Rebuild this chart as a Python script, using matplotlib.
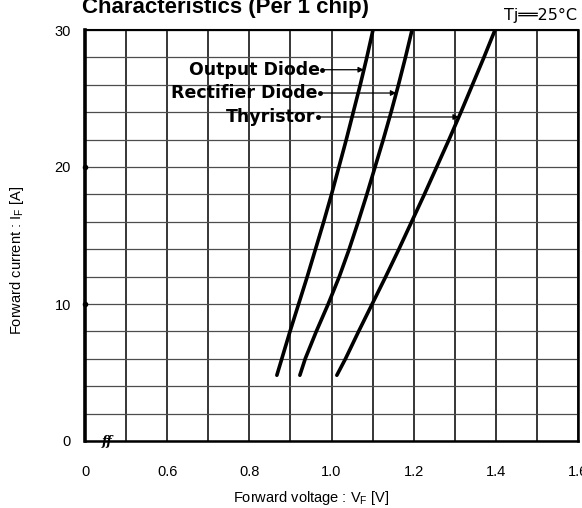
import numpy as np
from matplotlib import pyplot as plt

plt.rcParams['font.family'] = ['Liberation Sans', 'DejaVu Sans']

# forward current [A]
current = [4.8, 6, 8, 10, 12, 14, 16, 18, 20, 22, 24, 26, 28, 30]
# forward voltage [V]
vf_output_diode = [0.867, 0.879, 0.899, 0.920, 0.941, 0.961, 0.981, 1.000,
                   1.018, 1.036, 1.053, 1.070, 1.086, 1.101]
vf_rectifier_diode = [0.923, 0.936, 0.963, 0.992, 1.019, 1.043, 1.065, 1.086,
                      1.106, 1.126, 1.145, 1.163, 1.180, 1.196]
vf_thyristor = [1.013, 1.034, 1.066, 1.099, 1.132, 1.164, 1.195, 1.226,
                1.256, 1.286, 1.315, 1.343, 1.371, 1.398]

labels = ['Output Diode', 'Rectifier Diode', 'Thyristor']
label_current = [27.1, 25.4, 23.65]
label_dot_v = [0.977, 0.972, 0.967]

x_ticks = [0.4, 0.6, 0.8, 1.0, 1.2, 1.4, 1.6]
x_tick_labels = ['0', '0.6', '0.8', '1.0', '1.2', '1.4', '1.6']
y_ticks = [0, 10, 20, 30]

figure = plt.figure(figsize=(5.82, 5.08), dpi=100)
ax = figure.add_axes([85 / 582, 1 - 441 / 508, 493 / 582, 411 / 508])

series = [vf_output_diode, vf_rectifier_diode, vf_thyristor]
for vf in series:
    ax.plot(vf, current, color='black', lw=2.6, solid_capstyle='round',
            solid_joinstyle='round')

ax.set_xlim(0.4, 1.6)
ax.set_ylim(0, 30)
ax.set_xticks(x_ticks)
ax.set_xticklabels(x_tick_labels)
ax.set_xticks(np.arange(0.4, 1.61, 0.1), minor=True)
ax.set_yticks(y_ticks)
ax.set_yticks(np.arange(0, 31, 2), minor=True)
ax.tick_params(axis='both', which='both', length=0, labelsize=10.5)
ax.tick_params(axis='x', pad=17)
ax.tick_params(axis='y', pad=10)

ax.grid(axis='x', which='both', color='black', lw=1.1)
ax.grid(axis='y', which='both', color='0.3', lw=0.9)
ax.set_axisbelow(True)

for side, lw in [('left', 2.6), ('bottom', 1.8), ('top', 1.5), ('right', 1.8)]:
    ax.spines[side].set_linewidth(lw)
    ax.spines[side].set_zorder(5)

# small bumps on the left axis at the labelled currents
ax.plot([0.4, 0.4], [10, 20], 'o', color='black', ms=3, clip_on=False, zorder=6)

# annotations with arrows
for name, vf, cur, dot_v in zip(labels, series, label_current, label_dot_v):
    target_v = np.interp(cur, current, vf)
    ax.text(dot_v - 0.006, cur, name, ha='right', va='center',
            fontsize=12.5, fontweight='bold', family='DejaVu Sans', zorder=6)
    ax.plot([dot_v], [cur], 'o', color='black', ms=2.5, zorder=6)
    ax.annotate('', xy=(target_v, cur), xytext=(dot_v, cur),
                arrowprops=dict(arrowstyle='-|>', color='black', lw=0.9,
                                mutation_scale=8, shrinkA=0, shrinkB=0),
                zorder=6)

# axis break mark
ax.text(0.455, 0, 'ff', ha='center', va='center', fontsize=9,
        fontstyle='italic', fontweight='bold', family='DejaVu Serif',
        clip_on=False, zorder=7)

figure.text(82 / 582, 1 - 13 / 508, 'Characteristics (Per 1 chip)',
            fontsize=16, fontweight='bold', ha='left', va='baseline')
figure.text(577 / 582, 1 - 20 / 508, 'Tj\u2550\u255025°C', fontsize=11.5,
            family=['DejaVu Sans'], ha='right', va='baseline')

figure.text(311 / 582, 1 - 498 / 508, 'Forward voltage : V$_\\mathregular{F}$ [V]',
            fontsize=10.5, ha='center', va='center')
figure.text(17 / 582, 1 - 260 / 508, 'Forward current : I$_\\mathregular{F}$ [A]',
            fontsize=10.5, ha='center', va='center', rotation=90)

figure.savefig('out.png', dpi=100)
